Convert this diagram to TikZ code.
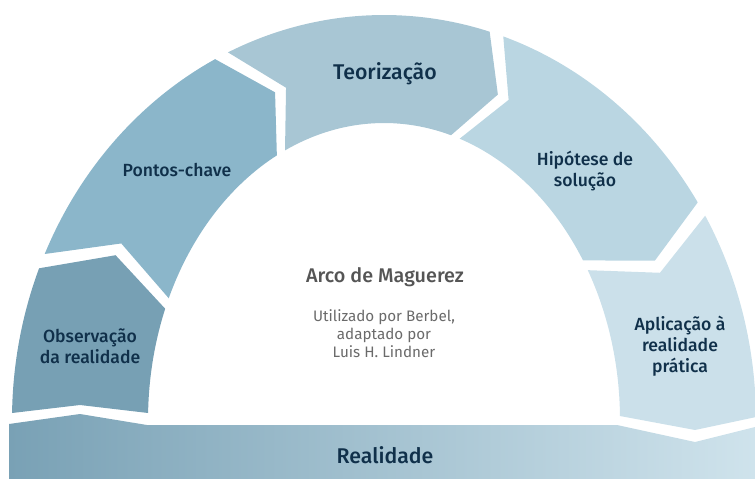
\documentclass[tikz,border=0pt]{standalone}
\usepackage{fontspec}
\setmainfont{Fira Sans}
\newfontfamily\medf{Fira Sans Medium}
\usetikzlibrary{calc}
\definecolor{cObs}{HTML}{77A0B4}
\definecolor{cPon}{HTML}{8BB6CA}
\definecolor{cTeo}{HTML}{A8C6D4}
\definecolor{cHip}{HTML}{BAD6E2}
\definecolor{cApl}{HTML}{CBE0EA}
\definecolor{cBarL}{HTML}{79A1B5}
\definecolor{cBarR}{HTML}{CFE3EC}
\definecolor{cTxt}{HTML}{10304A}
\definecolor{cTitle}{HTML}{555555}
\definecolor{cSub}{HTML}{6A6A6A}
\newcommand\ptO[2]{\coordinate (#1) at ($(C)+({372*cos(#2)},{405*sin(#2)})$);}
\newcommand\ptI[2]{\coordinate (#1) at ($(C)+({236*cos(#2)},{297*sin(#2)})$);}
\newcommand\ptM[2]{\coordinate (#1) at ($(C)+({304*cos(#2)},{351*sin(#2)})$);}
\begin{document}
\begin{tikzpicture}[x=1pt,y=1pt,
  lab/.style={text=cTxt,align=center,font=\medf\fontsize{17.6}{21}\selectfont},
  big/.style={text=cTxt,align=center,font=\medf\fontsize{21.3}{24}\selectfont},
  outarc/.style={x radius=372pt,y radius=405pt},
  inarc/.style={x radius=236pt,y radius=297pt}]
\useasboundingbox (0,0) rectangle (755,-479);
\coordinate (C) at (384,-420);
% Observacao
\coordinate (obsBo) at (12.1,-413);
\coordinate (obsBm) at (80,-405);
\coordinate (obsBi) at (148.1,-413);
\ptI{obsTi}{158}\ptM{obsTm}{152}\ptO{obsTo}{158}
% Pontos-chave
\ptO{ponBo}{155.8}\ptM{ponBm}{149.8}\ptI{ponBi}{155.8}
\ptI{ponTi}{117}\ptM{ponTm}{111}\ptO{ponTo}{117}
% Teorizacao
\ptO{teoBo}{114.8}\ptM{teoBm}{108.8}\ptI{teoBi}{114.8}
\ptI{teoTi}{73.5}\ptM{teoTm}{68}\ptO{teoTo}{73.5}
% Hipotese
\ptO{hipBo}{71.3}\ptM{hipBm}{65.8}\ptI{hipBi}{71.3}
\ptI{hipTi}{32.5}\ptM{hipTm}{27}\ptO{hipTo}{32.5}
% Aplicacao
\ptO{aplBo}{30.3}\ptM{aplBm}{24.8}\ptI{aplBi}{30.3}
\ptI{aplTi}{0.77}
\coordinate (aplTm) at (695,-430);
\ptO{aplTo}{0.42}

\fill[cObs] (obsBo) -- (obsBm) -- (obsBi) arc[start angle=178.65,end angle=158,inarc]
  -- (obsTm) -- (obsTo) arc[start angle=158,end angle=179,outarc] -- cycle;
\fill[cPon] (ponBo) -- (ponBm) -- (ponBi) arc[start angle=155.8,end angle=117,inarc]
  -- (ponTm) -- (ponTo) arc[start angle=117,end angle=155.8,outarc] -- cycle;
\fill[cTeo] (teoBo) -- (teoBm) -- (teoBi) arc[start angle=114.8,end angle=73.5,inarc]
  -- (teoTm) -- (teoTo) arc[start angle=73.5,end angle=114.8,outarc] -- cycle;
\fill[cHip] (hipBo) -- (hipBm) -- (hipBi) arc[start angle=71.3,end angle=32.5,inarc]
  -- (hipTm) -- (hipTo) arc[start angle=32.5,end angle=71.3,outarc] -- cycle;
\fill[cApl] (aplBo) -- (aplBm) -- (aplBi) arc[start angle=30.3,end angle=0.77,inarc]
  -- (aplTm) -- (aplTo) arc[start angle=0.42,end angle=30.3,outarc] -- cycle;

% Realidade bar
\coordinate (barA) at (9,-424);
\coordinate (barB) at (80,-414);
\coordinate (barC) at (147,-425);
\coordinate (barD) at (617,-425);
\coordinate (barE) at (695,-442);
\coordinate (barF) at (755,-427);
\coordinate (barG) at (755,-479);
\coordinate (barH) at (9,-479);
\shade[left color=cBarL,right color=cBarR] (barA) -- (barB) -- (barC) -- (barD) -- (barE) -- (barF) -- (barG) -- (barH) -- cycle;

% labels
\node[lab] (tObs) at (90,-346) {Observação\\da realidade};
\node[lab] (tPon) at (177,-170) {Pontos-chave};
\node[big] (tTeo) at (385,-74) {Teorização};
\node[lab] (tHip) at (585,-171) {Hipótese de\\solução};
\node[lab] (tApl) at (680,-346) {Aplicação à\\realidade\\prática};
\node[big] (tRea) at (385,-455) {Realidade};
\node[text=cTitle,font=\medf\fontsize{19.8}{23}\selectfont] (tArco) at (385,-277) {Arco de Maguerez};
\node[text=cSub,align=center,font=\fontsize{15.2}{18}\selectfont] (tSub) at (384,-334) {Utilizado por Berbel,\\adaptado por\\Luis H. Lindner};
\end{tikzpicture}
\end{document}
